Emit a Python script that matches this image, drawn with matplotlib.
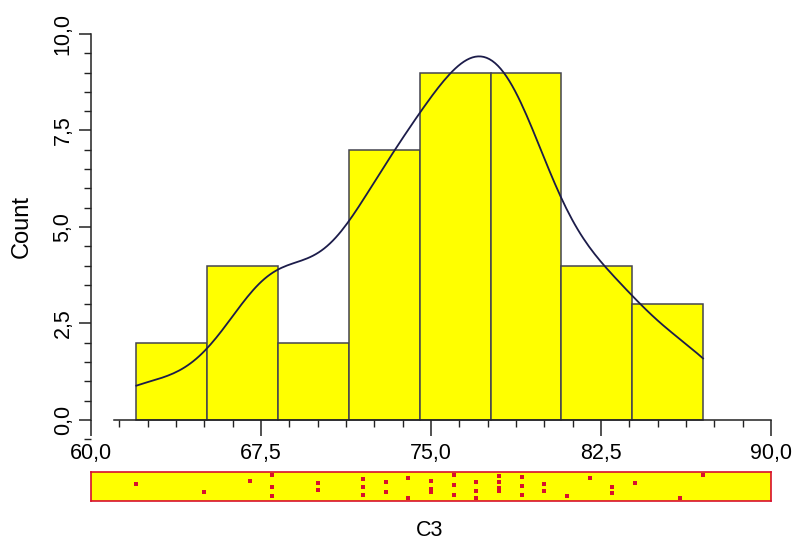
import numpy as np
import matplotlib
matplotlib.use("Agg")
import matplotlib.pyplot as plt
import seaborn as sns
from matplotlib.ticker import MultipleLocator, FuncFormatter

# C3 observations, grouped by value with how many times each occurs
c3_values = [62, 65, 67, 68, 70, 72, 73, 74, 75, 76, 77, 78, 79, 80, 81, 82, 83, 84, 86, 87]
c3_counts = [1, 1, 1, 3, 2, 3, 2, 2, 3, 3, 3, 4, 3, 2, 1, 1, 2, 1, 1, 1]

# vertical jitter of each rug dot inside the strip (0 = bottom, 1 = top)
rug_jitter = [
    [0.60], [0.31], [0.70], [0.92, 0.49, 0.14], [0.62, 0.37],
    [0.77, 0.48, 0.17], [0.68, 0.31], [0.81, 0.06], [0.70, 0.42, 0.28],
    [0.92, 0.56, 0.16], [0.67, 0.32, 0.08], [0.89, 0.68, 0.45, 0.32],
    [0.87, 0.51, 0.17], [0.60, 0.34], [0.15], [0.83], [0.48, 0.27],
    [0.62], [0.08], [0.92],
]

c3 = np.repeat(c3_values, c3_counts)
rug_x = np.repeat(c3_values, [len(j) for j in rug_jitter])
rug_y = np.concatenate(rug_jitter)

plt.rcParams['font.family'] = ['Liberation Sans', 'DejaVu Sans']

YELLOW = '#ffff00'
EDGE = '#44444f'
CURVE = '#1c1c4a'
RED = '#d8102e'

fig = plt.figure(figsize=(7.92, 5.44), dpi=100)
ax = fig.add_axes([0.1149, 0.1925, 0.8586, 0.745])

sns.histplot(x=c3, bins=8, ax=ax, color=YELLOW, alpha=1, edgecolor=EDGE,
             linewidth=1.1, kde=True,
             kde_kws=dict(bw_adjust=0.66, cut=0),
             line_kws=dict(linewidth=1.3))
ax.lines[-1].set_color(CURVE)

ax.set_xlim(60, 90)
ax.set_ylim(-0.5, 10)
ax.set_xlabel('')
ax.set_ylabel('')

for side in ['top', 'right']:
    ax.spines[side].set_visible(False)
ax.spines['bottom'].set_position(('data', 0))
ax.spines['bottom'].set_bounds(61, 90)
ax.spines['left'].set_bounds(0, 10)
for side in ['bottom', 'left']:
    ax.spines[side].set_linewidth(1.1)
    ax.spines[side].set_color('#222222')

comma = FuncFormatter(lambda v, pos: f"{v:.1f}".replace('.', ','))
ax.xaxis.set_major_locator(MultipleLocator(7.5))
ax.xaxis.set_minor_locator(MultipleLocator(1.25))
ax.yaxis.set_major_locator(MultipleLocator(2.5))
ax.yaxis.set_minor_locator(MultipleLocator(0.5))
ax.xaxis.set_major_formatter(comma)
ax.yaxis.set_major_formatter(comma)

ax.tick_params(axis='x', which='major', length=11.5, width=1.1, pad=5,
               labelsize=15.5, color='#222222')
ax.tick_params(axis='x', which='minor', length=5, width=1.0, color='#222222')
ax.tick_params(axis='y', which='major', length=8.5, width=1.1, pad=4,
               labelsize=15.5, color='#222222')
ax.tick_params(axis='y', which='minor', length=5, width=1.0, color='#222222')
for lab in ax.get_yticklabels():
    lab.set_rotation(90)
    lab.set_va('center')

fig.text(22 / 792, 1 - 227 / 544, 'Count', rotation=90, ha='center',
         va='center', fontsize=17)

# rug strip with every observation
rug = fig.add_axes([0.1149, 0.0790, 0.8586, 0.0533])
rug.set_facecolor(YELLOW)
rug.scatter(rug_x, rug_y, s=6, marker='s', color=RED, linewidths=0)
rug.set_xlim(60, 90)
rug.set_ylim(-0.05, 1.05)
rug.set_xticks([])
rug.set_yticks([])
for s in rug.spines.values():
    s.set_color(RED)
    s.set_linewidth(1.2)

fig.text(430 / 792, 1 - 531 / 544, 'C3', ha='center', va='center',
         fontsize=15.5)

fig.savefig('out.png', dpi=100)
